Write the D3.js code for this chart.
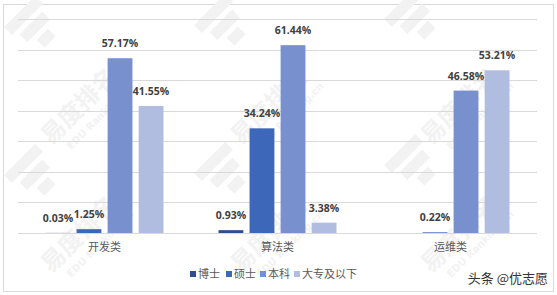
<!DOCTYPE html>
<html><head><meta charset="utf-8">
<script src="https://cdn.jsdelivr.net/npm/d3@7/dist/d3.min.js"></script>
<style>
html,body{margin:0;padding:0;background:#fff;}
svg{display:block;}
</style></head>
<body>
<svg id="chart" width="557" height="295"></svg>
<script>
const categories = ["开发类", "算法类", "运维类"];
const series = ["博士", "硕士", "本科", "大专及以下"];
const boshi = [0.03, 0.93, null];
const shuoshi = [1.25, 34.24, 0.22];
const benke = [57.17, 61.44, 46.58];
const dazhuan = [41.55, 3.38, 53.21];
const yTicks = [0, 10, 20, 30, 40, 50, 60, 70];
const colors = ["#2E4C8E", "#3D67B8", "#7990CF", "#B1BDE0"];
const valuesBySeries = [boshi, shuoshi, benke, dazhuan];

const svg = d3.select("#chart");

// border
svg.append("rect").attr("x", 3.5).attr("y", 4.5).attr("width", 550).attr("height", 287)
  .attr("fill", "#fff").attr("stroke", "#D9D9D9");

// faint background watermarks
const wm = svg.append("g").attr("fill", "#F2F2F2");
const textPos = [[85, 112], [275, 112], [465, 112], [85, 240], [275, 240], [465, 240]];
textPos.forEach(([x, y]) => {
  const g = wm.append("g").attr("transform", `translate(${x},${y}) rotate(-45)`);
  g.append("text").attr("text-anchor", "middle").attr("font-family", "Noto Sans CJK SC")
    .attr("font-size", 24).attr("font-weight", 700).text("易度排名");
  g.append("text").attr("text-anchor", "middle").attr("x", 8).attr("y", 17).attr("font-family", "DejaVu Sans")
    .attr("font-size", 10).attr("font-weight", 700).text("EDU Ranking.cn");
});
const logoPos = [[38, 30], [228, 28], [418, 22], [38, 178], [228, 176], [418, 168]];
logoPos.forEach(([x, y]) => {
  const g = wm.append("g").attr("transform", `translate(${x},${y}) rotate(45)`);
  g.append("rect").attr("x", -26).attr("y", -22).attr("width", 11).attr("height", 44);
  g.append("rect").attr("x", -10).attr("y", -16).attr("width", 11).attr("height", 32);
  g.append("rect").attr("x", 6).attr("y", -8).attr("width", 11).attr("height", 16);
});

const x0 = d3.scaleBand().domain(categories).range([18, 537]).padding(0);
const x1 = d3.scaleBand().domain(series).range([-59, 59]).paddingInner(0.2);
const y = d3.scaleLinear().domain([0, 70]).range([233, 19]);

// gridlines
svg.append("g").selectAll("line").data(yTicks).join("line")
  .attr("x1", 18).attr("x2", 537)
  .attr("y1", d => Math.round(y(d)) + 0.5).attr("y2", d => Math.round(y(d)) + 0.5)
  .attr("stroke", "#D9D9D9").attr("stroke-width", 1);

// bars
const cats = svg.append("g").selectAll("g").data(categories).join("g")
  .attr("transform", d => `translate(${x0(d) + x0.bandwidth() / 2},0)`);

series.forEach((s, si) => {
  cats.each(function (c, ci) {
    const v = valuesBySeries[si][ci];
    if (v == null) return;
    const g = d3.select(this);
    g.append("rect")
      .attr("x", x1(s)).attr("width", x1.bandwidth())
      .attr("y", y(v)).attr("height", y(0) - y(v))
      .attr("fill", colors[si]);
    g.append("text")
      .attr("x", x1(s) + x1.bandwidth() / 2)
      .attr("y", y(v) - 11)
      .attr("text-anchor", "middle")
      .attr("font-family", "Open Sans, sans-serif").attr("font-weight", 700)
      .attr("font-size", 10.5).attr("fill", "#404040")
      .text(v.toFixed(2) + "%");
  });
});

// category axis labels
const xAxis = d3.axisBottom(x0).tickSize(0).tickPadding(10);
const ax = svg.append("g").attr("transform", "translate(0,233)").call(xAxis);
ax.select(".domain").remove();
ax.selectAll("text").attr("font-family", "Noto Sans CJK SC").attr("font-size", 11)
  .attr("fill", "#595959").attr("dy", "0.7em");

// legend
const legendX = [190, 226, 260, 294];
const lg = svg.append("g");
series.forEach((s, i) => {
  lg.append("rect").attr("x", legendX[i]).attr("y", 271).attr("width", 6).attr("height", 6).attr("fill", colors[i]);
  lg.append("text").attr("x", legendX[i] + 8).attr("y", 278)
    .attr("font-family", "Noto Sans CJK SC").attr("font-size", 11).attr("fill", "#595959").text(s);
});

// source watermark
svg.append("text").attr("x", 548).attr("y", 283).attr("text-anchor", "end")
  .attr("font-family", "Noto Sans CJK SC").attr("font-size", 13).attr("fill", "#333")
  .text("头条 @优志愿");
</script>
</body></html>
